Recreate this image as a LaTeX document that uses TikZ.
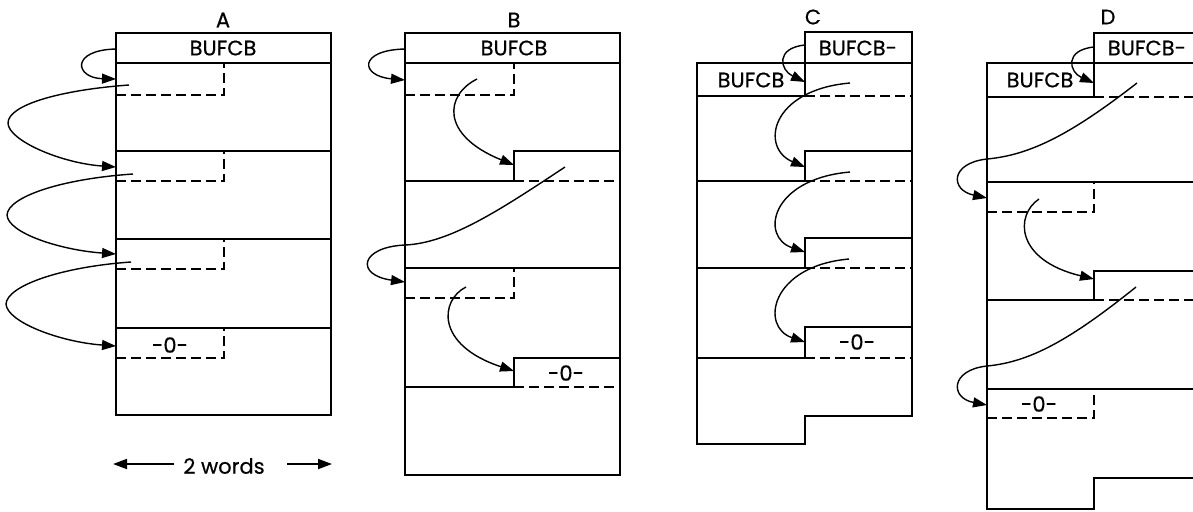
\documentclass[tikz,border=0pt]{standalone}
\usepackage{fontspec}
\setmainfont{Poppins}[FakeBold=0.5]
\usetikzlibrary{arrows.meta}

\begin{document}
\begin{tikzpicture}[x=0.5pt, y=-0.5pt,
    wall/.style={draw=black, line width=1.2pt},
    cutline/.style={draw=black, line width=1.2pt, dash pattern=on 5pt off 2.5pt},
    link/.style={draw=black, line width=0.7pt, -{Triangle[length=7pt,width=5pt]}},
    lbl/.style={font=\fontsize{10.5}{12}\selectfont, inner sep=0pt}]
  \useasboundingbox (0,0) rectangle (1193,511);

  % A
  \draw[wall] (116,33) rectangle (331,415);
  \foreach \y in {63,151,239,328}
    \draw[wall] (116,\y) -- (331,\y);
  \foreach \y/\d in {63/95,151/181,239/269,328/358}
    \draw[cutline] (116,\d) -- (224,\d) -- (224,\y);
  \node[lbl] (labA) at (223,20) {A};
  \node[lbl] (cbA) at (223,48) {BUFCB};
  \node[lbl] (zA) at (170,345) {-0-};
  \node[lbl] (words) at (224,466) {2 words};

  % B
  \draw[wall] (405,33) rectangle (620,475);
  \draw[wall] (405,63) -- (620,63);
  \draw[cutline] (405,95) -- (514,95) -- (514,63);
  \draw[wall] (405,181) -- (514,181) -- (514,151) -- (620,151);
  \draw[cutline] (514,181) -- (620,181);
  \draw[wall] (405,268) -- (620,268);
  \draw[cutline] (405,298) -- (514,298) -- (514,268);
  \draw[wall] (405,387) -- (514,387) -- (514,358) -- (620,358);
  \draw[cutline] (514,387) -- (620,387);
  \node[lbl] (labB) at (514,20) {B};
  \node[lbl] (cbB) at (514,48) {BUFCB};
  \node[lbl] (zB) at (566,373) {-0-};

  % C
  \draw[wall] (697,63) -- (805,63) -- (805,32) -- (912,32) -- (912,416)
    -- (805,416) -- (805,444) -- (697,444) -- cycle;
  \draw[wall] (805,63) -- (912,63);
  \draw[wall] (697,96) -- (805,96) -- (805,63);
  \draw[cutline] (805,96) -- (912,96);
  \foreach \t/\b in {151/181,238/268,327/358} {
    \draw[wall] (697,\b) -- (805,\b) -- (805,\t) -- (912,\t);
    \draw[cutline] (805,\b) -- (912,\b);
  }
  \node[lbl] (labC) at (813,17) {C};
  \node[lbl] (cbC) at (751,80) {BUFCB};
  \node[lbl] (cbmC) at (858,48) {BUFCB-};
  \node[lbl] (zC) at (857,342) {-0-};

  % D
  \draw[wall] (1193,33) -- (1094,33) -- (1094,63) -- (987,63) -- (987,509)
    -- (1094,509) -- (1094,478) -- (1193,478);
  \draw[wall] (1094,63) -- (1193,63);
  \draw[wall] (987,97) -- (1094,97) -- (1094,63);
  \draw[cutline] (1094,97) -- (1193,97);
  \draw[wall] (987,182) -- (1193,182);
  \draw[cutline] (987,212) -- (1094,212) -- (1094,182);
  \draw[wall] (987,300) -- (1094,300) -- (1094,271) -- (1193,271);
  \draw[cutline] (1094,300) -- (1193,300);
  \draw[wall] (987,389) -- (1193,389);
  \draw[cutline] (987,418) -- (1094,418) -- (1094,389);
  \node[lbl] (labD) at (1108,17) {D};
  \node[lbl] (cbD) at (1040,80) {BUFCB};
  \node[lbl] (cbmD) at (1147,48) {BUFCB-};
  \node[lbl] (zD) at (1039,404) {-0-};

  % chain pointers
  \coordinate (a1s) at (116,49);  \coordinate (a1e) at (116,79);
  \coordinate (a2s) at (129,85);  \coordinate (a2e) at (116,167);
  \coordinate (a3s) at (133,174); \coordinate (a3e) at (116,254);
  \coordinate (a4s) at (131,262); \coordinate (a4e) at (116,346);
  \draw[link] (a1s) .. controls (70,50) and (75,78) .. (a1e);
  \draw[link] (a2s) .. controls (60,90) and (8,105) .. (8,123)
    .. controls (8,140) and (60,163) .. (a2e);
  \draw[link] (a3s) .. controls (60,179) and (8,197) .. (7,215)
    .. controls (8,233) and (60,250) .. (a3e);
  \draw[link] (a4s) .. controls (60,267) and (7,286) .. (6,304)
    .. controls (7,322) and (60,342) .. (a4e);

  \coordinate (b1s) at (405,49);  \coordinate (b1e) at (405,80);
  \coordinate (b2s) at (477,79);  \coordinate (b2e) at (514,165);
  \coordinate (b3s) at (565,167); \coordinate (b3e) at (405,282);
  \coordinate (b4s) at (466,287); \coordinate (b4e) at (514,371);
  \draw[link] (b1s) .. controls (358,50) and (360,76) .. (b1e);
  \draw[link] (b2s) .. controls (445,95) and (440,135) .. (b2e);
  \draw[link] (b3s) .. controls (500,210) and (450,243) .. (405,245)
    .. controls (360,247) and (355,275) .. (b3e);
  \draw[link] (b4s) .. controls (440,300) and (435,345) .. (b4e);

  \coordinate (c1s) at (805,45);  \coordinate (c1e) at (805,82);
  \coordinate (c2s) at (850,83);  \coordinate (c2e) at (805,167);
  \coordinate (c3s) at (850,172); \coordinate (c3e) at (805,252);
  \coordinate (c4s) at (849,259); \coordinate (c4e) at (805,342);
  \draw[link] (c1s) .. controls (775,48) and (780,70) .. (c1e);
  \draw[link] (c2s) .. controls (770,90) and (760,148) .. (c2e);
  \draw[link] (c3s) .. controls (770,179) and (760,237) .. (c3e);
  \draw[link] (c4s) .. controls (770,266) and (760,327) .. (c4e);

  \coordinate (d1s) at (1094,47);  \coordinate (d1e) at (1094,83);
  \coordinate (d2s) at (1137,83);  \coordinate (d2e) at (987,198);
  \coordinate (d3s) at (1039,199); \coordinate (d3e) at (1094,279);
  \coordinate (d4s) at (1136,287); \coordinate (d4e) at (987,405);
  \draw[link] (d1s) .. controls (1064,50) and (1069,72) .. (d1e);
  \draw[link] (d2s) .. controls (1070,135) and (1030,155) .. (987,159)
    .. controls (950,163) and (950,190) .. (d2e);
  \draw[link] (d3s) .. controls (1015,215) and (1015,260) .. (d3e);
  \draw[link] (d4s) .. controls (1070,340) and (1030,362) .. (987,366)
    .. controls (950,370) and (950,398) .. (d4e);

  % width marker
  \coordinate (wl1) at (174,464); \coordinate (wl2) at (113,464);
  \coordinate (wr1) at (287,464); \coordinate (wr2) at (332,464);
  \draw[link, line width=0.9pt] (wl1) -- (wl2);
  \draw[link, line width=0.9pt] (wr1) -- (wr2);
\end{tikzpicture}
\end{document}
